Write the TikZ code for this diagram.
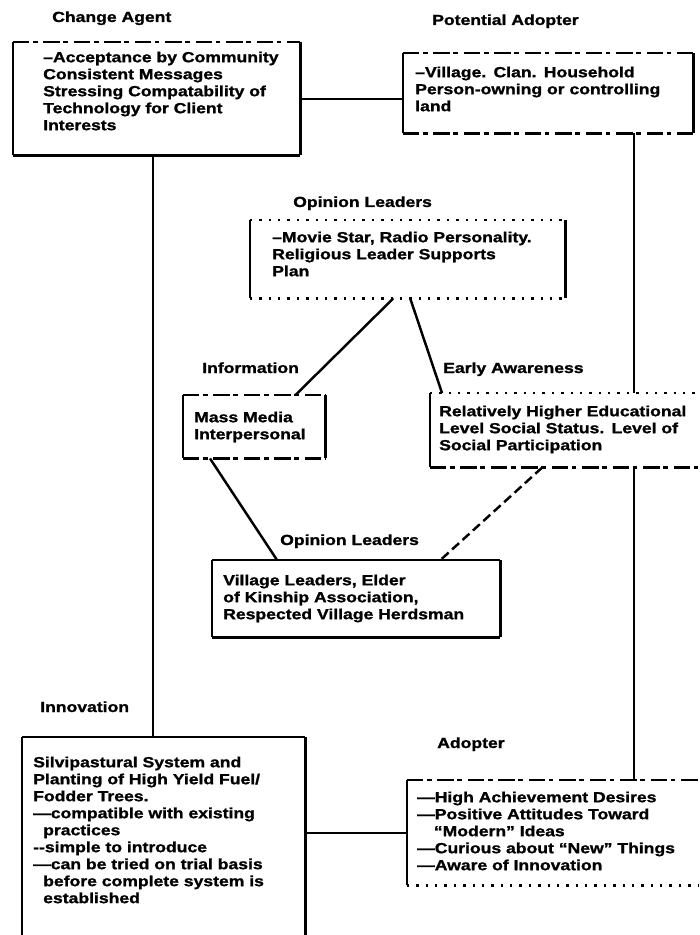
\documentclass[tikz,border=0pt]{standalone}
\usepackage{fontspec}
\setmainfont{Liberation Sans}[FakeStretch=1.2, BoldFeatures={FakeBold=1.3}]
\usepackage{tikz}
\usetikzlibrary{calc}
\tikzset{
  lettering/.style={font=\fontsize{12.5}{14.5}\selectfont\bfseries},
  heading/.style={lettering, anchor=base west, inner sep=0pt},
  panel/.style={lettering, anchor=north west, inner sep=0pt, align=left},
  pad/.style={execute at begin node={\leftskip=#1}},
  rim/.style={line width=1.8pt},
  link/.style={line width=2.1pt},
  broken/.style={dash pattern=on 14pt off 3pt on 4pt off 5pt},
  dotty/.style={dash pattern=on 2pt off 6pt},
}
% left side always solid; then top, right, bottom
\newcommand{\rimbox}[4]{%
  \draw[rim] (#1.north west) -- (#1.south west);
  \draw[rim,#2] (#1.north west) -- (#1.north east);
  \draw[rim,#3] (#1.north east) -- (#1.south east);
  \draw[rim,#4] (#1.south west) -- (#1.south east);}

\begin{document}
\begin{tikzpicture}[x=0.03cm, y=-0.03cm]
\useasboundingbox (0,0) rectangle (699,935);

% headings
\node[heading] (ca-t)  at (52,22)   {Change Agent};
\node[heading] (pa-t)  at (432,25)  {Potential Adopter};
\node[heading] (olt-t) at (293,207) {Opinion Leaders};
\node[heading] (mm-t)  at (202,373) {Information};
\node[heading] (ea-t)  at (443,373) {Early Awareness};
\node[heading] (olb-t) at (280,545) {Opinion Leaders};
\node[heading] (inn-t) at (40,712)  {Innovation};
\node[heading] (ad-t)  at (437,748) {Adopter};

% boxes
\node[panel, pad=0.9cm, text width=8.61cm, text height=0.6cm, text depth=2.79cm] (ca) at (13,42)
  {--Acceptance by Community\\Consistent Messages\\Stressing Compatability of\\Technology for Client\\Interests};
\node[panel, pad=0.36cm, text width=8.7cm, text height=0.72cm, text depth=1.68cm] (pa) at (403,53)
  {--Village. Clan. Household\\Person-owning or controlling\\land};
\node[panel, pad=0.66cm, text width=9.45cm, text height=0.66cm, text depth=1.68cm] (olt) at (250,220)
  {--Movie Star, Radio Personality.\\Religious Leader Supports\\Plan};
\node[panel, pad=0.33cm, text width=4.26cm, text height=0.81cm, text depth=1.08cm] (mm) at (183,395)
  {Mass Media\\Interpersonal};
\node[panel, pad=0.27cm, text width=8.07cm, text height=0.69cm, text depth=1.53cm] (ea) at (430,393)
  {Relatively Higher Educational\\Level  Social Status. Level of\\Social Participation};
\node[panel, pad=0.33cm, text width=8.64cm, text height=0.75cm, text depth=1.56cm] (olb) at (212,560)
  {Village Leaders, Elder\\of Kinship Association,\\Respected Village Herdsman};
\node[panel, pad=0.33cm, text width=8.49cm, text height=0.9cm, text depth=5.07cm] (inn) at (22,737)
  {Silvipastural System and\\Planting of High Yield Fuel/\\Fodder Trees.\\---compatible with existing\\\hspace*{0.3cm}practices\\-{}-simple to introduce\\---can be tried on trial basis\\\hspace*{0.3cm}before complete system is\\\hspace*{0.3cm}established};
\node[panel, pad=0.3cm, text width=8.76cm, text height=0.66cm, text depth=2.49cm] (ad) at (407,780)
  {---High Achievement Desires\\---Positive Attitudes Toward\\\hspace*{0.5cm}``Modern'' Ideas\\---Curious about ``New'' Things\\---Aware of Innovation};

\rimbox{ca}{broken}{solid}{solid}
\rimbox{pa}{broken}{solid}{broken}
\rimbox{olt}{dotty}{solid}{dotty}
\rimbox{mm}{broken}{solid}{broken}
\rimbox{ea}{dotty}{draw=none}{broken}
\rimbox{olb}{solid}{solid}{solid}
\rimbox{inn}{solid}{solid}{draw=none}
\rimbox{ad}{broken}{draw=none}{dotty}

% connectors
\coordinate (cadrop) at ([xshift=-0.105cm]ca.south);
\coordinate (padrop) at ([xshift=2.58cm]pa.south);
\draw[link] (ca.east) -- (ca.east -| pa.west);
\draw[link] (cadrop) -- (cadrop |- inn.north);
\draw[link] (padrop) -- (padrop |- ea.north);
\draw[link] (padrop |- ea.south) -- (padrop |- ad.north);
\draw[link] ([xshift=-0.435cm]olt.south) -- ([xshift=-0.9cm]mm.north east);
\draw[link] ([xshift=0.075cm]olt.south) -- ([xshift=0.36cm]ea.north west);
\draw[link] ([xshift=0.81cm]mm.south west) -- ([xshift=1.95cm]olb.north west);
\draw[link, dash pattern=on 8pt off 4pt] ([xshift=-0.675cm]ea.south) -- ([xshift=-1.8cm]olb.north east);
\draw[link] (ad.west) -- (ad.west -| inn.east);
\end{tikzpicture}
\end{document}
